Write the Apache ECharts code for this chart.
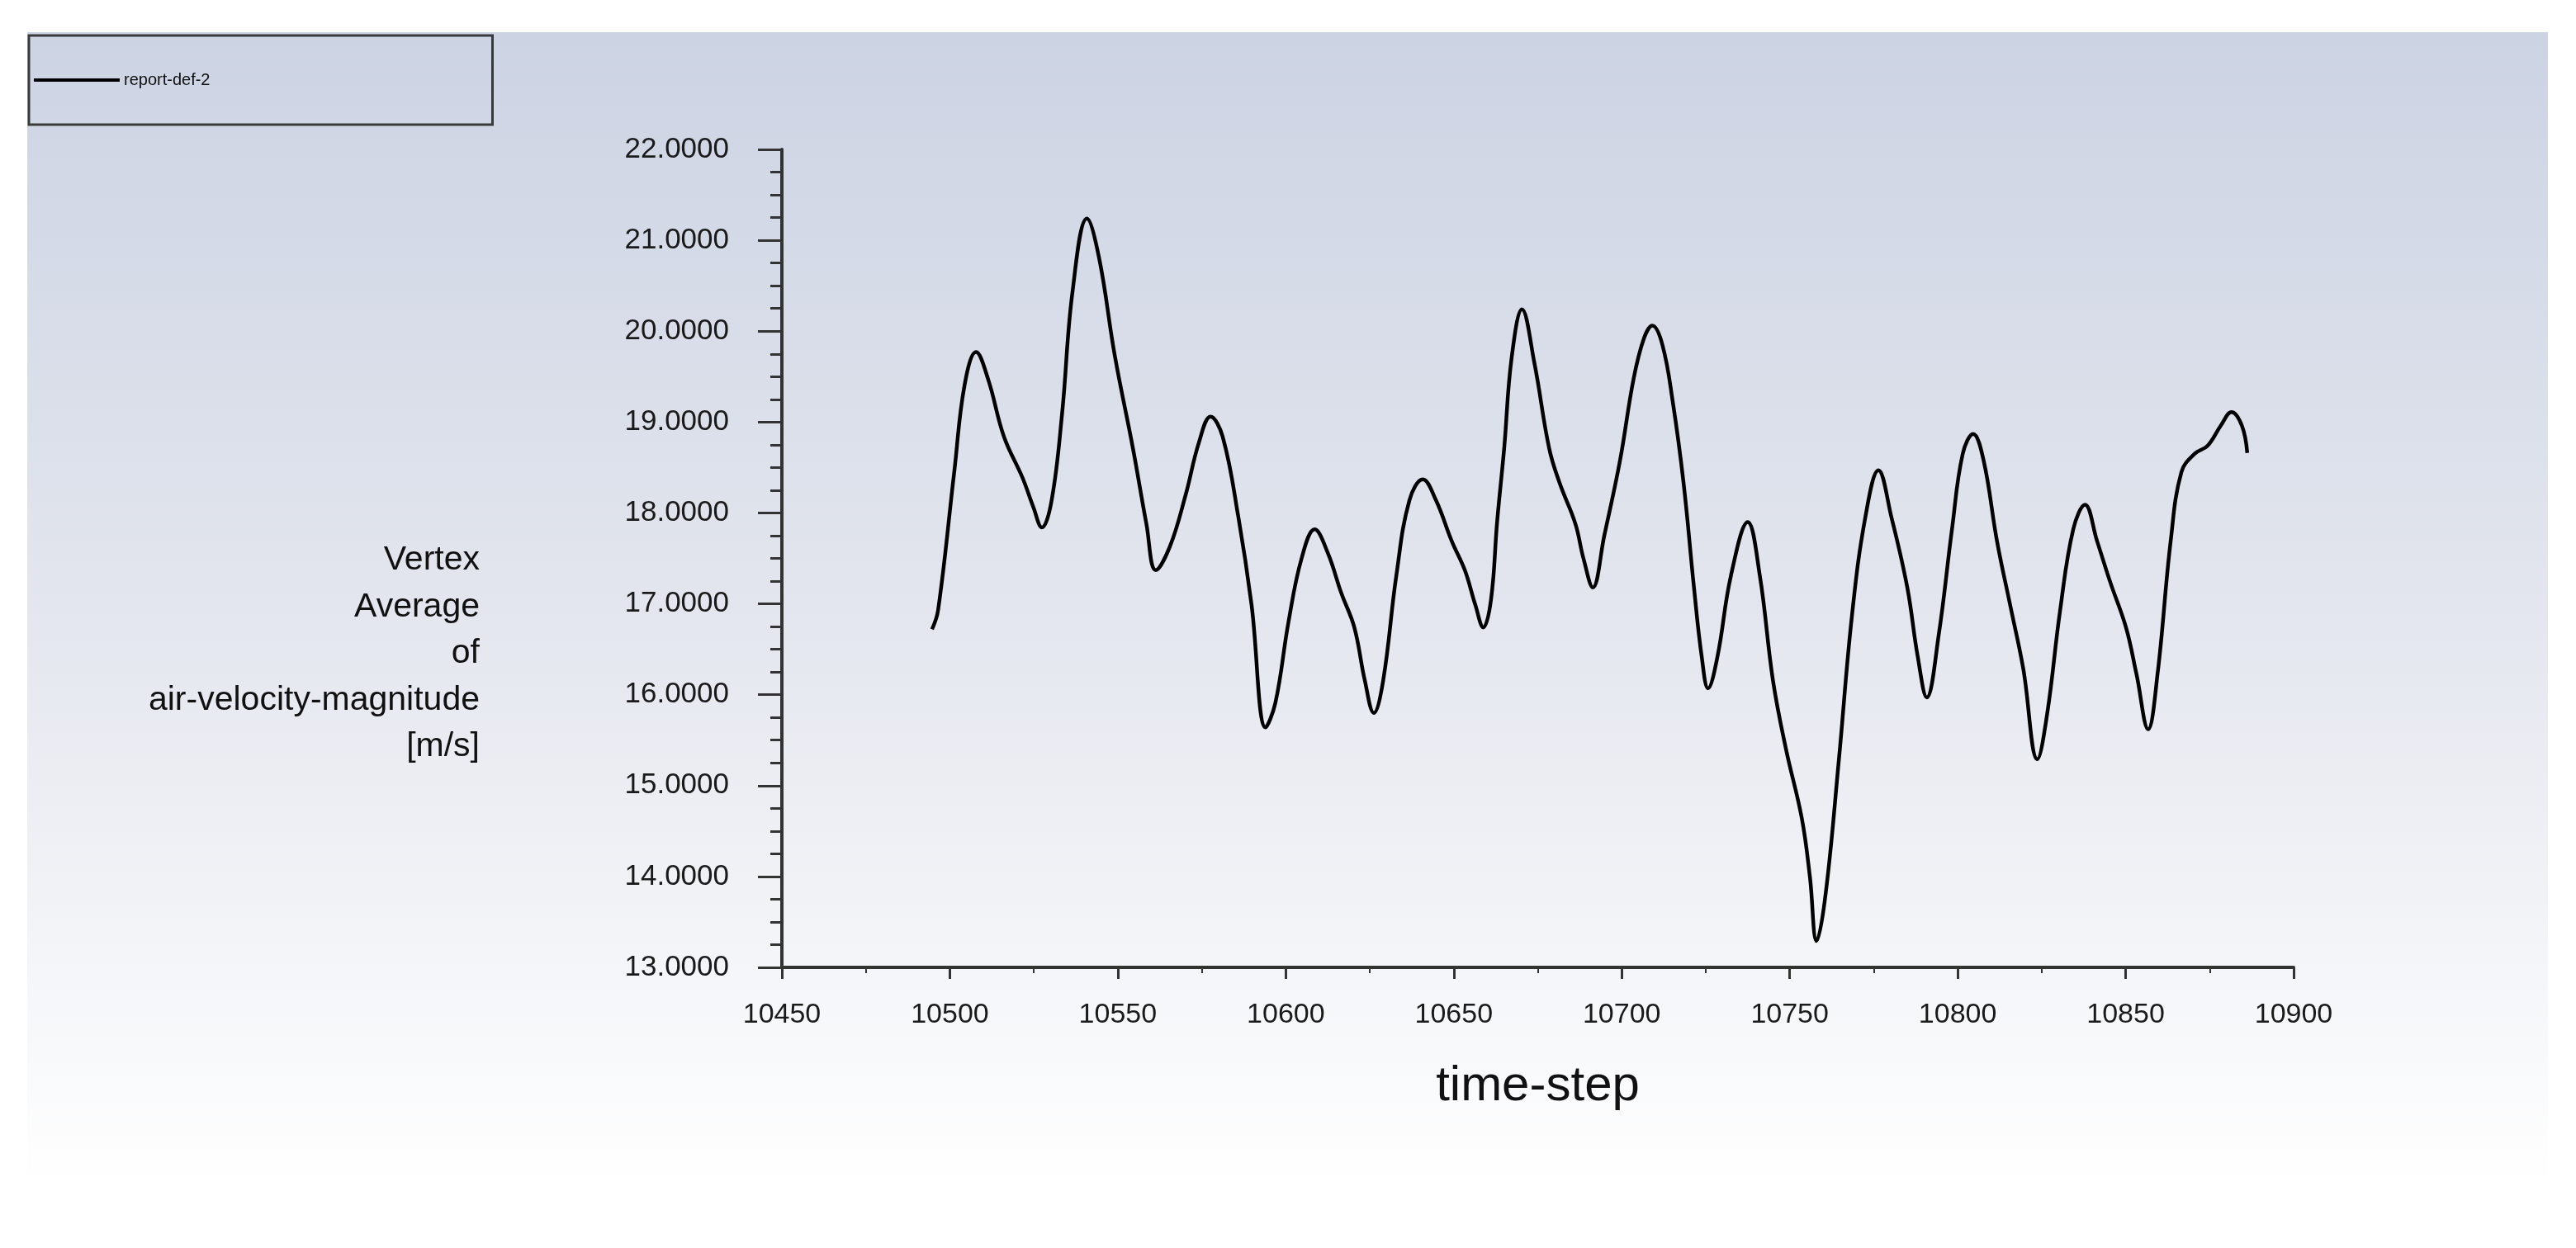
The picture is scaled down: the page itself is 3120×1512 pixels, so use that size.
<!DOCTYPE html>
<html>
<head>
<meta charset="utf-8">
<style>
  html, body { margin: 0; padding: 0; background: #ffffff; }
  #chart { width: 3120px; height: 1512px; }
</style>
<script src="https://cdn.jsdelivr.net/npm/echarts@6/dist/echarts.min.js"></script>
</head>
<body>
<div id="chart"></div>
<script>
// ---- data ----
const seriesName = 'report-def-2';
const timeSteps = [
  10494.7, 10496.5, 10501.3, 10504.4, 10507.8, 10511.4, 10516.1, 10521.6, 10524.8, 10527.4,
  10530.3, 10533.4, 10536.5, 10540.8, 10544.4, 10549.1, 10554.5, 10558.5, 10561.3, 10565.5,
  10570.2, 10574.1, 10577.6, 10581.2, 10585.9, 10589.8, 10594.0, 10596.9, 10600.8,
  10604.7, 10608.6, 10612.5, 10616.5, 10620.4, 10623.5, 10626.2, 10629.0, 10632.9, 10636.8,
  10640.8, 10644.7, 10649.4, 10653.3, 10656.4, 10658.8, 10661.1, 10662.9, 10665.0, 10667.2,
  10670.3, 10674.0, 10678.4, 10681.5, 10686.2, 10688.6, 10691.4, 10694.8, 10699.5, 10703.5,
  10706.6, 10709.1, 10712.1, 10715.2, 10718.4, 10721.5, 10723.8, 10725.7, 10728.5, 10732.5,
  10737.5, 10741.1, 10745.0, 10748.9, 10753.6, 10756.0, 10758.0, 10760.7, 10764.6, 10768.5,
  10772.5, 10776.4, 10780.3, 10785.0, 10788.1, 10790.8, 10794.4, 10798.3, 10801.5, 10804.6,
  10807.7, 10811.7, 10815.6, 10819.5, 10823.7, 10826.6, 10830.5, 10834.4, 10837.9, 10841.5,
  10845.4, 10850.1, 10853.2, 10856.7, 10859.5, 10863.4, 10866.6, 10870.5, 10874.4, 10878.3,
  10881.5, 10884.6, 10886.2
];
const velocity = [
  16.72, 16.93, 18.45, 19.41, 19.77, 19.47, 18.84, 18.39, 18.07, 17.84,
  18.14, 19.09, 20.43, 21.24, 20.81, 19.73, 18.71, 17.88, 17.37, 17.63,
  18.20, 18.77, 19.06, 18.84, 17.95, 16.99, 15.64, 15.91, 16.80,
  17.50, 17.82, 17.56, 17.12, 16.74, 16.16, 15.80, 16.16, 17.31, 18.14,
  18.37, 18.14, 17.69, 17.37, 16.99, 16.74, 17.05, 17.90, 18.71, 19.70,
  20.24, 19.65, 18.71, 18.33, 17.88, 17.50, 17.18, 17.75, 18.58, 19.47,
  19.92, 20.06, 19.85, 19.22, 18.33, 17.18, 16.42, 16.07, 16.42, 17.31,
  17.90, 17.31, 16.16, 15.40, 14.64, 14.00, 13.29, 13.81, 15.27, 16.86,
  17.95, 18.47, 17.95, 17.18, 16.42, 15.97, 16.67, 17.82, 18.65, 18.87,
  18.58, 17.69, 16.99, 16.29, 15.29, 15.78, 16.93, 17.82, 18.09, 17.69,
  17.24, 16.74, 16.23, 15.62, 16.23, 17.69, 18.45, 18.65, 18.74, 18.96,
  19.11, 18.96, 18.66
];
const xAxisTitle = 'time-step';
const yAxisTitleLines = ['Vertex', 'Average', 'of', 'air-velocity-magnitude', '[m/s]'];

// ---- chart ----
const FONT = "'Liberation Sans', Arial, Helvetica, sans-serif";
const points = timeSteps.map((t, i) => [t, velocity[i]]);
const chart = echarts.init(document.getElementById('chart'), null, { renderer: 'canvas' });

chart.setOption({
  backgroundColor: '#ffffff',
  animation: false,
  textStyle: { fontFamily: FONT },
  graphic: [{
    type: 'rect',
    silent: true,
    z: -100,
    shape: { x: 33, y: 39, width: 3053, height: 1401 },
    style: {
      fill: new echarts.graphic.LinearGradient(0, 0, 0, 1, [
        { offset: 0, color: '#ccd3e3' },
        { offset: 0.5, color: '#e3e6ee' },
        { offset: 1, color: '#ffffff' }
      ])
    }
  }, {
    type: 'text',
    silent: true,
    z: 10,
    style: {
      text: yAxisTitleLines.join('\n'),
      x: 581,
      y: 792,
      align: 'right',
      verticalAlign: 'middle',
      fontFamily: FONT,
      fontSize: 41,
      lineHeight: 56.5,
      fill: '#111111'
    }
  }],
  legend: {
    show: true,
    left: 35,
    top: 43,
    orient: 'vertical',
    icon: 'rect',
    itemWidth: 104,
    itemHeight: 4,
    padding: [44, 342, 44, 6],
    borderColor: '#3a3a3a',
    borderWidth: 3,
    textStyle: { fontFamily: FONT, fontSize: 20, color: '#111111' },
    data: [seriesName]
  },
  grid: { left: 947, right: 342, top: 181, bottom: 340, containLabel: false },
  xAxis: {
    type: 'value',
    min: 10450,
    max: 10900,
    interval: 50,
    name: xAxisTitle,
    nameLocation: 'middle',
    nameGap: 114,
    nameTextStyle: { fontFamily: FONT, fontSize: 60, color: '#111111' },
    axisLine: { show: true, onZero: false, lineStyle: { color: '#333333', width: 4 } },
    axisTick: { show: true, inside: false, length: 14, lineStyle: { color: '#333333', width: 3 } },
    minorTick: { show: true, splitNumber: 2, length: 7, lineStyle: { color: '#333333', width: 2 } },
    axisLabel: {
      fontFamily: FONT, fontSize: 34, color: '#1a1a1a', margin: 41,
      formatter: v => String(Math.round(v))
    },
    splitLine: { show: false },
    minorSplitLine: { show: false }
  },
  yAxis: {
    type: 'value',
    min: 13,
    max: 22,
    interval: 1,
    axisLine: { show: true, onZero: false, lineStyle: { color: '#333333', width: 4 } },
    axisTick: { show: true, inside: false, length: 29, lineStyle: { color: '#333333', width: 3 } },
    minorTick: { show: true, splitNumber: 4, length: 14, lineStyle: { color: '#333333', width: 3 } },
    axisLabel: {
      fontFamily: FONT, fontSize: 35, color: '#1a1a1a', margin: 64,
      formatter: v => v.toFixed(4)
    },
    splitLine: { show: false },
    minorSplitLine: { show: false }
  },
  series: [{
    name: seriesName,
    type: 'line',
    data: points,
    smooth: 0.4,
    showSymbol: false,
    symbol: 'none',
    itemStyle: { color: '#000000' },
    lineStyle: { color: '#000000', width: 4.5 }
  }]
});
</script>
</body>
</html>
